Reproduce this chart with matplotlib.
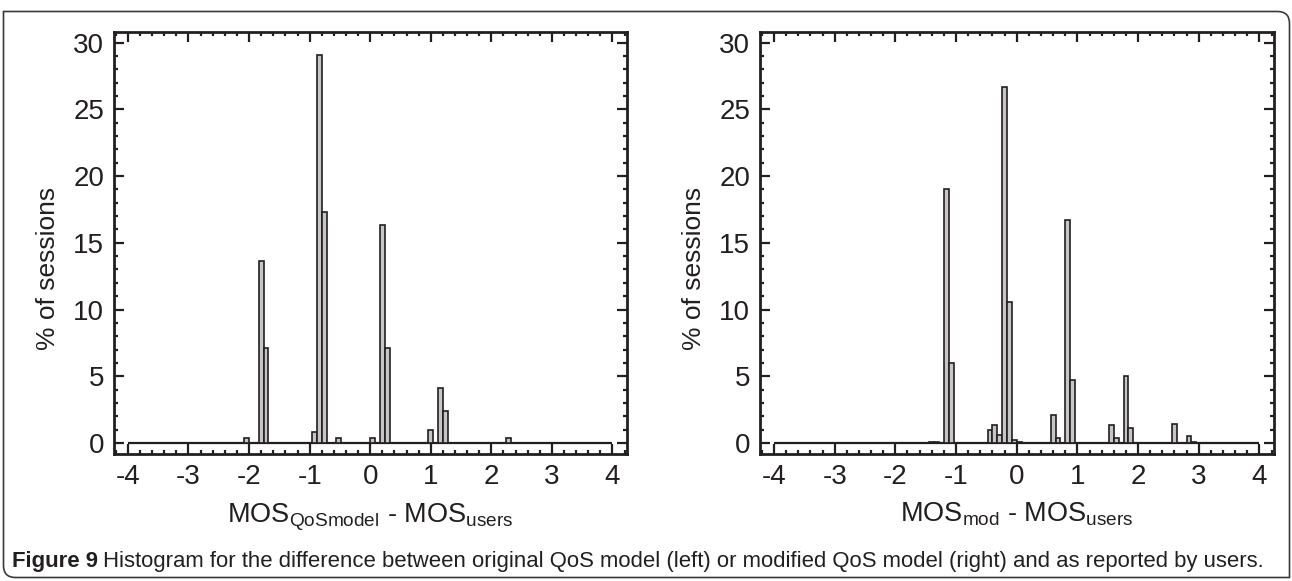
import numpy as np
import matplotlib
matplotlib.use("Agg")
import matplotlib.pyplot as plt
from matplotlib.ticker import MultipleLocator
from matplotlib.path import Path
from matplotlib.patches import PathPatch

plt.rcParams['font.family'] = ['Liberation Sans', 'DejaVu Sans']
plt.rcParams['mathtext.default'] = 'regular'

# histogram of MOS differences, 100 bins over [-4, 4]
hist_range = (-4, 4)
bin_width = 0.08

left_centers = [-2.04, -1.80, -1.72, -0.92, -0.84, -0.76, -0.52, 0.04, 0.20, 0.28,
                1.00, 1.16, 1.24, 2.28]
left_pct = [0.4, 13.6, 7.1, 0.8, 29.1, 17.3, 0.4, 0.4, 16.3, 7.1,
            1.0, 4.1, 2.4, 0.4]

right_centers = [-1.40, -1.32, -1.16, -1.08, -0.44, -0.36, -0.28, -0.20, -0.12, -0.04,
                 0.04, 0.60, 0.68, 0.84, 0.92, 1.56, 1.64, 1.80, 1.88, 2.60, 2.84, 2.92]
right_pct = [0.1, 0.1, 19.0, 6.0, 1.0, 1.35, 0.6, 26.7, 10.6, 0.25,
             0.1, 2.1, 0.35, 16.7, 4.7, 1.35, 0.35, 5.05, 1.1, 1.45, 0.5, 0.1]

xlabels = [r'MOS$_{QoSmodel}$ - MOS$_{users}$', r'MOS$_{mod}$ - MOS$_{users}$']
ylabel = '% of sessions'
caption_bold = 'Figure 9'
caption_rest = ('Histogram for the difference between original QoS model (left) or '
                'modified QoS model (right) and as reported by users.')

ink = '#231f20'

fig = plt.figure(figsize=(12.92, 5.81), dpi=100)
W, H = 1292, 581

# outer figure frame, rounded top-right and bottom-left corners
x0, x1, y0, y1, r = 3.5, 1289.5, 3.5, 569.5, 12
verts = [(x0, y1), (x1 - r, y1), (x1, y1), (x1, y1 - r), (x1, y0),
         (x0 + r, y0), (x0, y0), (x0, y0 + r), (x0, y1)]
codes = [Path.MOVETO, Path.LINETO, Path.CURVE3, Path.CURVE3, Path.LINETO,
         Path.LINETO, Path.CURVE3, Path.CURVE3, Path.CLOSEPOLY]
verts = [(x / W, y / H) for x, y in verts]
fig.patches.append(PathPatch(Path(verts, codes), transform=fig.transFigure,
                             fill=False, edgecolor='#3a3a3a', lw=1.2))

axes_px = [(114, 627), (760, 1274)]
top_px, bot_px = 32, 454

for (lx, rx), centers, pct, xl in zip(axes_px, [left_centers, right_centers],
                                      [left_pct, right_pct], xlabels):
    ax = fig.add_axes([lx / W, (H - bot_px) / H, (rx - lx) / W, (bot_px - top_px) / H])
    ax.hlines(0, *hist_range, color=ink, lw=1.6, zorder=1)
    ax.bar(centers, pct, width=bin_width, color='#c6c6c6', edgecolor=ink,
           linewidth=1.2, zorder=2)
    ax.set_xlim(-4.23, 4.24)
    ax.set_ylim(-0.83, 30.8)
    ax.xaxis.set_major_locator(MultipleLocator(1))
    ax.xaxis.set_minor_locator(MultipleLocator(0.2))
    ax.yaxis.set_major_locator(MultipleLocator(5))
    ax.yaxis.set_minor_locator(MultipleLocator(1))
    ax.tick_params(which='both', direction='in', top=True, right=True,
                   colors=ink, labelsize=20)
    ax.tick_params(which='major', length=7.5, width=1.6, pad=7)
    ax.tick_params(which='minor', length=3.2, width=1.6)
    for sp in ax.spines.values():
        sp.set_linewidth(2.0)
        sp.set_color(ink)
    ax.set_xticklabels([f'{int(v)}' for v in ax.get_xticks()])
    ax.set_xlabel(xl, fontsize=19.5, color=ink, labelpad=8)
    ax.set_ylabel(ylabel, fontsize=19, color=ink)
    ax.yaxis.set_label_coords(-0.105, 0.44)

# caption: bold figure number followed by regular text
cy = 1 - 562 / H
t1 = fig.text(12 / W, cy, caption_bold, fontsize=15.9, fontweight='bold',
              color=ink, va='center')
fig.canvas.draw()
bb = t1.get_window_extent()
fig.text((bb.x1 + 5) / W, cy, caption_rest, fontsize=15.9,
         color=ink, va='center')

fig.savefig('out.png', dpi=100)
